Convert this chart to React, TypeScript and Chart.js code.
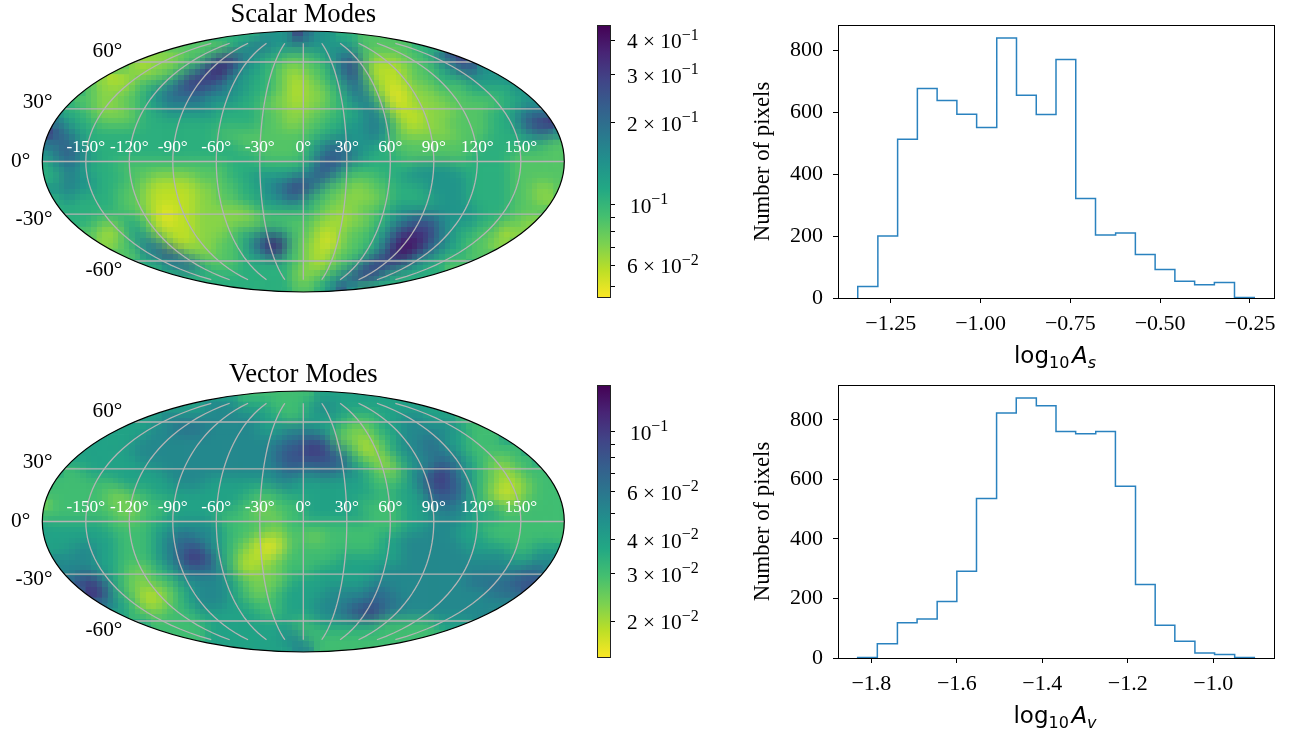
import React, { useEffect, useRef } from "react";
import { Chart, registerables } from "chart.js";
Chart.register(...registerables);

const SERIF = '"Liberation Serif", serif';
const SANS = '"DejaVu Sans", sans-serif';

const viridis = ["#440154","#482475","#414487","#355f8d","#2a788e","#21918c","#22a884","#44bf70","#7ad151","#bddf26","#fde725"];

const scalarRange = [0.04556, 0.4556];
const vectorRange = [0.01466, 0.1486];
const scalarLevels = [0.0477,0.0574,0.0688,0.085,0.1068,0.1378,0.1816,0.2399,0.3155,0.4163];
const vectorLevels = [0.0157,0.0193,0.0238,0.03,0.0395,0.0508,0.0642,0.0807,0.1039,0.1307];

const scalarRows = [
"4444444444 4444444444 5558655443 3333333333 33333333",
"3333333333 3333333456 6555555553 3333444444 44444444",
"2222222222 2223357865 4433345674 2223346786 66666666",
"3333333321 2234689755 4322334684 1112334577 55555555",
"3333321123 3458887554 4321234575 2112334445 55555555",
"4444322234 5677766554 4321223466 3101223334 44455555",
"5543322334 5666655544 3221223456 5201222333 33445555",
"5544322234 4555554444 3322233445 6411122233 34456666",
"7654433334 4444444444 3322334455 6531122333 34457887",
"8765444444 4444443333 3333344555 6532222233 34445665",
"6675444444 4444444433 3333456655 5433333333 44444433",
"5676544444 4444444444 3333467765 4443333334 44433333",
"4565444333 3333333444 4444577644 4444555544 44433333",
"4465544433 2222333445 5556676433 3445555554 44433333",
"5565544332 1111223344 5678753322 3344455554 44433223",
"4454444332 1111223344 5566433222 2344445554 44433223",
"4444444332 1011222223 4444432223 3455555555 44433333",
"4444433443 1011222222 3333322122 3456776555 44332222",
"3333321354 2111222344 5543311233 4578886544 33122222",
"3333322346 6311223346 8963210233 4689976543 32233333",
"3333333335 6863223345 6843212334 5799765443 33333333",
"4444444444 4567533344 4443212346 8876544334 44444444",
"4444444444 4444444444 4442234578 7544444444 44444444",
"4444444444 4444444444 4443345754 4444444444 44444444",
];

const vectorRows = [
"4444444444 4444444433 3333344444 4444444444 44444444",
"4444444444 4444455544 4333455444 4444444444 44444444",
"4444444444 4555555555 4433444433 3445544433 44444444",
"4444444444 5566655555 4455544322 3445555543 33444444",
"4444444445 5555555555 5566775221 2345565443 33444444",
"4444444455 5555555555 5677887531 1345566543 33334444",
"4444444445 5555555555 5677777743 2134556654 32233444",
"4433444444 4555555555 5566566554 3224568754 32123333",
"4333333444 4455544444 4554444444 3334578764 32112333",
"3333332233 4444444443 3344444444 4344467764 31012333",
"2333332223 3344444433 2333444443 3334456654 33223333",
"3333333223 3444443332 2233444444 3334445554 44333333",
"4444443333 4455554333 3233333333 3334455544 33333333",
"4444444333 4566554332 1123223333 3445555544 43333333",
"4445544333 4567754321 0023333333 3445555554 44433444",
"4555544333 4568874311 1233333444 4445555555 55544555",
"5555544322 3456665311 2233344444 4555555555 55556655",
"6667864322 3345555432 2234444444 5555555556 66677777",
"6666885321 1234555432 2344445555 6655555555 56667777",
"6666665431 1234555443 3344455566 7665555555 55555555",
"4444444433 2333444444 3344455678 8655555555 55555555",
"4444444444 3333344444 4443344444 4333334444 44444444",
"4444444444 3333344444 4455333333 3333333333 33333333",
"4444444444 4444444444 4445533333 3333333333 33333333",
];

const lonTicks = [-150,-120,-90,-60,-30,0,30,60,90,120,150];
const latTicks = [-60,-30,0,30,60];
const latLabelShift: Record<number, number> = { 60: -10.5, 30: -6, 0: 0, [-30]: 5.5, [-60]: 9 };

const scalarTicks = [0.4,0.3,0.2,0.1,0.09,0.08,0.07,0.06,0.05];
const scalarTickLabels = ["4 × 10⁻¹","3 × 10⁻¹","2 × 10⁻¹","10⁻¹","","","","6 × 10⁻²",""];
const vectorTicks = [0.1,0.09,0.08,0.07,0.06,0.05,0.04,0.03,0.02];
const vectorTickLabels = ["10⁻¹","","","","6 × 10⁻²","","4 × 10⁻²","3 × 10⁻²","2 × 10⁻²"];

const scalarEdges = [-1.342,-1.286,-1.231,-1.176,-1.121,-1.066,-1.011,-0.955,-0.900,-0.845,-0.790,-0.735,-0.680,-0.624,-0.569,-0.514,-0.459,-0.404,-0.349,-0.293,-0.238];
const scalarCounts = [37,200,512,676,637,593,550,839,654,592,770,321,203,210,140,92,54,43,50,2];
const vectorEdges = [-1.832,-1.786,-1.739,-1.693,-1.646,-1.600,-1.554,-1.507,-1.461,-1.414,-1.368,-1.322,-1.275,-1.229,-1.182,-1.136,-1.090,-1.043,-0.997,-0.950,-0.904];
const vectorCounts = [2,48,118,131,190,291,536,823,873,847,761,753,761,577,247,110,56,17,12,2];
const scalarXTicks = [-1.25,-1.0,-0.75,-0.5,-0.25];
const vectorXTicks = [-1.8,-1.6,-1.4,-1.2,-1.0];
const scalarYTicks = [0,200,400,600,800];
const vectorYTicks = [0,200,400,600,800];

function hexRgb(h: string) { return [1,3,5].map(i => parseInt(h.slice(i,i+2),16)); }
function viridisColor(t: number) {
  const p = Math.max(0, Math.min(0.9999, t)) * (viridis.length - 1);
  const i = Math.floor(p), f = p - i;
  const a = hexRgb(viridis[i]), b = hexRgb(viridis[i+1]);
  return `rgb(${a.map((c,k)=>Math.round(c+(b[k]-c)*f)).join(",")})`;
}

function mollTheta(latDeg: number) {
  const lat = latDeg*Math.PI/180;
  let t = lat;
  for (let i=0;i<40;i++) t -= (2*t+Math.sin(2*t)-Math.PI*Math.sin(lat))/(2+2*Math.cos(2*t)+1e-9);
  return t;
}

function mapConfig(title: string, rows: string[], levels: number[], range: number[]) {
  const cells: {x:number;y:number;v:number}[] = [];
  const colors: string[] = [];
  const clean = rows.map(r => r.replace(/ /g,""));
  const nr = clean.length, nc = clean[0].length;
  clean.forEach((r,j) => {
    for (let i=0;i<nc;i++) {
      const v = levels[+r[i]];
      cells.push({ x: -1+(i+0.5)*2/nc, y: 1-(j+0.5)*2/nr, v });
      colors.push(viridisColor(1-(Math.log10(v)-Math.log10(range[0]))/(Math.log10(range[1])-Math.log10(range[0]))));
    }
  });
  const overlay = {
    id: "mollweide",
    beforeDatasetsDraw(c: any) {
      const a = c.chartArea, g = c.ctx;
      g.save(); g.beginPath();
      g.ellipse((a.left+a.right)/2,(a.top+a.bottom)/2,a.width/2,a.height/2,0,0,Math.PI*2);
      g.clip();
    },
    afterDatasetsDraw(c: any) {
      const a = c.chartArea, g = c.ctx, sx = c.scales.x, sy = c.scales.y;
      const sm = document.createElement("canvas");
      sm.width = Math.round(a.width/5.44); sm.height = Math.round(a.height/5.44);
      const s = sm.getContext("2d") as any;
      s.filter = "blur(1.1px)";
      s.imageSmoothingEnabled = true; s.imageSmoothingQuality = "high";
      s.drawImage(c.canvas, a.left, a.top, a.width, a.height, 0, 0, sm.width, sm.height);
      g.imageSmoothingEnabled = false;
      g.drawImage(sm, a.left, a.top, a.width, a.height);
      g.imageSmoothingEnabled = true;
      g.restore();
      g.save();
      g.strokeStyle = "#b4b4b4"; g.lineWidth = 1.3;
      latTicks.forEach(lat => {
        const t = mollTheta(lat);
        g.beginPath();
        g.moveTo(sx.getPixelForValue(-Math.cos(t)), sy.getPixelForValue(Math.sin(t)));
        g.lineTo(sx.getPixelForValue(Math.cos(t)), sy.getPixelForValue(Math.sin(t)));
        g.stroke();
      });
      lonTicks.forEach(lon => {
        g.beginPath();
        for (let lat=-75;lat<=75;lat+=3) {
          const t = mollTheta(lat);
          const px = sx.getPixelForValue(lon/180*Math.cos(t)), py = sy.getPixelForValue(Math.sin(t));
          lat===-75 ? g.moveTo(px,py) : g.lineTo(px,py);
        }
        g.stroke();
      });
      g.strokeStyle = "#000"; g.lineWidth = 1.2; g.beginPath();
      g.ellipse((a.left+a.right)/2,(a.top+a.bottom)/2,a.width/2,a.height/2,0,0,Math.PI*2);
      g.stroke();
      g.fillStyle = "#fff"; g.font = `17.3px ${SERIF}`; g.textAlign = "center"; g.textBaseline = "middle";
      lonTicks.forEach(lon => g.fillText(`${lon}°`, sx.getPixelForValue(lon/180), sy.getPixelForValue(0)-14));
      g.fillStyle = "#000"; g.font = `21.33px ${SERIF}`; g.textAlign = "right";
      latTicks.forEach(lat => {
        const t = mollTheta(lat);
        g.fillText(`${lat}°`, sx.getPixelForValue(-Math.cos(t))-12, sy.getPixelForValue(Math.sin(t))+latLabelShift[lat]);
      });
      g.restore();
    },
  };
  return {
    type: "scatter",
    data: { datasets: [{ data: cells, backgroundColor: colors, pointStyle: "rect", pointRadius: 8.1, pointBorderWidth: 0, borderWidth: 0 }] },
    options: {
      responsive: false, animation: false, events: [],
      layout: { padding: { left: 42.3, right: 25.7, top: 0, bottom: 28 } },
      scales: { x: { type: "linear", min: -1, max: 1, display: false }, y: { type: "linear", min: -1, max: 1, display: false } },
      plugins: {
        legend: { display: false }, tooltip: { enabled: false },
        title: { display: true, text: title, color: "#000", font: { family: SERIF, size: 26.67, weight: "normal" }, padding: { top: -1, bottom: 0 } },
      },
    },
    plugins: [overlay],
  };
}

function colorbarConfig(range: number[], ticks: number[], tickLabels: string[]) {
  const labelPlugin = {
    id: "cbarLabels",
    afterDraw(c: any) {
      const g = c.ctx, a = c.chartArea, sy = c.scales.y;
      g.save();
      g.strokeStyle = "#222"; g.lineWidth = 1;
      g.strokeRect(a.left+0.5,a.top+0.5,a.width-1,a.height-1);
      g.fillStyle = "#000"; g.textBaseline = "alphabetic"; g.textAlign = "left";
      sy.ticks.forEach((t: any) => {
        const lab = String(t.label ?? "");
        if (!lab) return;
        const y = sy.getPixelForValue(t.value)+8;
        const m = lab.match(/^(.*?)([⁻¹²]+)$/);
        const base = m ? m[1] : lab;
        const x0 = base.length > 2 ? a.right+16 : a.right+19;
        g.font = `21.33px ${SERIF}`;
        g.fillText(base, x0, y);
        const w = g.measureText(base).width;
        g.font = `16px ${SERIF}`;
        g.fillText(m && m[2].includes("¹") ? "−1" : "−2", x0+w, y-8.5);
      });
      g.restore();
    },
  };
  return {
    type: "bar",
    data: { labels: ["colour"], datasets: [{
      data: [[range[0], range[1]]],
      barPercentage: 1, categoryPercentage: 1, borderWidth: 0,
      backgroundColor: (ctx: any) => {
        const a = ctx.chart.chartArea;
        if (!a) return "#000";
        const gr = ctx.chart.ctx.createLinearGradient(0,a.top,0,a.bottom);
        viridis.forEach((col,i) => gr.addColorStop(i/(viridis.length-1), col));
        return gr;
      },
    }] },
    options: {
      responsive: false, animation: false, events: [],
      layout: { padding: { left: 12, right: 0, top: 25, bottom: 22 } },
      scales: {
        x: { display: false },
        y: {
          type: "logarithmic", position: "right", min: range[0], max: range[1],
          afterBuildTicks: (s: any) => { s.ticks = ticks.map(value => ({ value })); },
          afterFit: (s: any) => { s.width = 109; },
          border: { display: false },
          grid: { drawOnChartArea: false, drawTicks: true, tickLength: 4, color: "#000", lineWidth: 1 },
          ticks: { display: false, autoSkip: false, callback: (v: number) => tickLabels[ticks.indexOf(v)] ?? "" },
        },
      },
      plugins: { legend: { display: false }, tooltip: { enabled: false } },
    },
    plugins: [labelPlugin],
  };
}

function histConfig(edges: number[], counts: number[], xTicks: number[], yTicks: number[], xlim: number[], ymax: number, sub: string, canvasH: number, decimals: number) {
  const pts = [{ x: edges[0], y: 0 }, ...counts.map((y,i) => ({ x: edges[i], y })), { x: edges[edges.length-1], y: 0 }];
  const frame = {
    id: "frame",
    afterDraw(c: any) {
      const g = c.ctx, a = c.chartArea;
      g.save();
      g.strokeStyle = "#000"; g.lineWidth = 1;
      g.strokeRect(Math.round(a.left)+0.5,Math.round(a.top)+0.5,Math.round(a.width),Math.round(a.height));
      const parts = [
        { t: "log", f: `23px ${SANS}`, dy: 0 },
        { t: "10", f: `16px ${SANS}`, dy: 4.5 },
        { t: " ", f: `8px ${SANS}`, dy: 0 },
        { t: "A", f: `italic 23px ${SANS}`, dy: 0 },
        { t: sub, f: `italic 16px ${SANS}`, dy: 4.5 },
      ];
      g.fillStyle = "#000"; g.textAlign = "left"; g.textBaseline = "alphabetic";
      let w = 0;
      parts.forEach(p => { g.font = p.f; w += g.measureText(p.t).width; });
      let x = (a.left+a.right)/2 - w/2 - 1;
      parts.forEach(p => { g.font = p.f; g.fillText(p.t, x, a.bottom+65+p.dy); x += g.measureText(p.t).width; });
      g.restore();
    },
  };
  return {
    type: "line",
    data: { datasets: [{ data: pts, stepped: "before", borderColor: "#2a82bf", borderWidth: 1.5, pointRadius: 0, fill: false }] },
    options: {
      responsive: false, animation: false, events: [],
      layout: { padding: { left: 0, right: 22, top: 25, bottom: 0 } },
      scales: {
        x: {
          type: "linear", min: xlim[0], max: xlim[1],
          afterBuildTicks: (s: any) => { s.ticks = xTicks.map(value => ({ value })); },
          afterFit: (s: any) => { s.height = canvasH-298; },
          border: { display: false },
          grid: { drawOnChartArea: false, tickLength: 5, color: "#000", lineWidth: 1 },
          ticks: { autoSkip: false, maxRotation: 0, padding: 8, color: "#000", font: { family: SERIF, size: 22 },
            callback: (v: number) => v.toFixed(decimals).replace("-", "−") },
        },
        y: {
          type: "linear", min: 0, max: ymax,
          afterBuildTicks: (s: any) => { s.ticks = yTicks.map(value => ({ value })); },
          afterFit: (s: any) => { s.width = 98; },
          border: { display: false },
          grid: { drawOnChartArea: false, tickLength: 5, color: "#000", lineWidth: 1 },
          title: { display: true, text: "Number of pixels", color: "#000", font: { family: SERIF, size: 22.8 }, padding: { top: 9, bottom: 0 } },
          ticks: { autoSkip: false, padding: 10, color: "#000", font: { family: SERIF, size: 22 } },
        },
      },
      plugins: { legend: { display: false }, tooltip: { enabled: false } },
    },
    plugins: [frame],
  };
}

function Panel({ left, top, width, height, make }: any) {
  const ref = useRef<HTMLCanvasElement>(null);
  useEffect(() => {
    const chart = new Chart(ref.current as any, make());
    return () => chart.destroy();
  }, []);
  return <canvas ref={ref} width={width} height={height} style={{ position: "absolute", left, top, width, height, display: "block" }} />;
}

export default function App() {
  return (
    <div style={{ position: "absolute", left: 0, top: 0, width: 1296, height: 733, background: "#fff", overflow: "hidden" }}>
      <Panel left={0} top={0} width={590} height={320} make={() => mapConfig("Scalar Modes", scalarRows, scalarLevels, scalarRange)} />
      <Panel left={0} top={360} width={590} height={320} make={() => mapConfig("Vector Modes", vectorRows, vectorLevels, vectorRange)} />
      <Panel left={585} top={0} width={135} height={320} make={() => colorbarConfig(scalarRange, scalarTicks, scalarTickLabels)} />
      <Panel left={585} top={360} width={135} height={320} make={() => colorbarConfig(vectorRange, vectorTicks, vectorTickLabels)} />
      <Panel left={740} top={0} width={556} height={372} make={() => histConfig(scalarEdges, scalarCounts, scalarXTicks, scalarYTicks, [-1.397,-0.183], 881, "s", 372, 2)} />
      <Panel left={740} top={360} width={556} height={373} make={() => histConfig(vectorEdges, vectorCounts, vectorXTicks, vectorYTicks, [-1.878,-0.858], 917, "v", 373, 1)} />
    </div>
  );
}
